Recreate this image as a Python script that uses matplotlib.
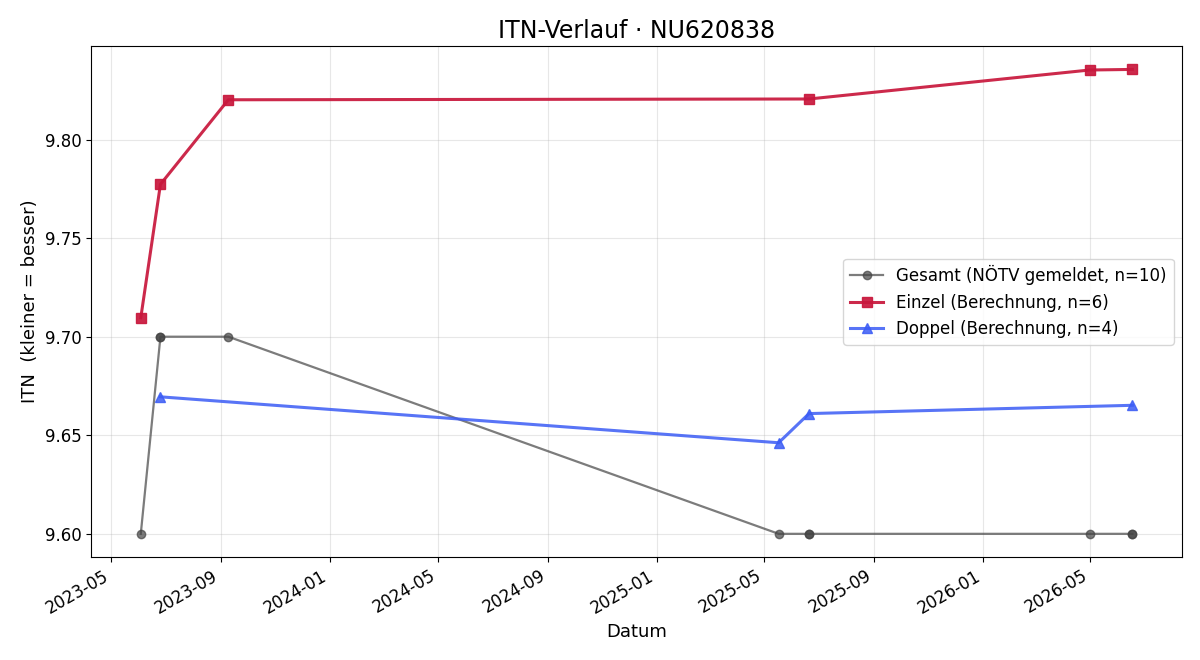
import matplotlib
matplotlib.use("Agg")
import matplotlib.pyplot as plt
import matplotlib.dates as mdates
import numpy as np
import pandas as pd

# Gesamt (reported), duplicates on same day overlap
gesamt_dates = ["2023-06-03", "2023-06-25", "2023-06-25", "2023-09-09", "2025-05-17",
                "2025-06-20", "2025-06-20", "2026-04-30", "2026-06-17", "2026-06-17"]
gesamt_itn = [9.60, 9.70, 9.70, 9.70, 9.60, 9.60, 9.60, 9.60, 9.60, 9.60]

einzel_dates = ["2023-06-03", "2023-06-25", "2023-09-09", "2025-06-20", "2026-04-30", "2026-06-17"]
einzel_itn = [9.7096, 9.7773, 9.8202, 9.8206, 9.8353, 9.8356]

doppel_dates = ["2023-06-25", "2025-05-17", "2025-06-20", "2026-06-17"]
doppel_itn = [9.6695, 9.6462, 9.6610, 9.6652]

fig, ax = plt.subplots(figsize=(12, 6.6), dpi=100)

ax.plot(pd.to_datetime(gesamt_dates), gesamt_itn, marker="o", color="#444444", alpha=0.7,
        linewidth=1.6, markersize=6, label="Gesamt (NÖTV gemeldet, n=10)")
ax.plot(pd.to_datetime(einzel_dates), einzel_itn, marker="s", color="#c8173c", alpha=0.92,
        linewidth=2.2, markersize=7, label="Einzel (Berechnung, n=6)")
ax.plot(pd.to_datetime(doppel_dates), doppel_itn, marker="^", color="#3b5cf5", alpha=0.85,
        linewidth=2.2, markersize=7, label="Doppel (Berechnung, n=4)")

ax.set_title("ITN-Verlauf · NU620838", fontsize=17)
ax.set_xlabel("Datum", fontsize=13)
ax.set_ylabel("ITN  (kleiner = besser)", fontsize=13)
ax.grid(True, alpha=0.3)
ax.tick_params(labelsize=12)
ax.yaxis.set_major_formatter(matplotlib.ticker.FormatStrFormatter("%.2f"))
ax.xaxis.set_major_locator(mdates.MonthLocator(bymonth=[1, 5, 9]))
ax.xaxis.set_major_formatter(mdates.DateFormatter("%Y-%m"))
ax.legend(loc="center right", fontsize=12)
fig.autofmt_xdate()
fig.subplots_adjust(left=0.076, right=0.985, top=0.930, bottom=0.156)
fig.savefig("out.png")
